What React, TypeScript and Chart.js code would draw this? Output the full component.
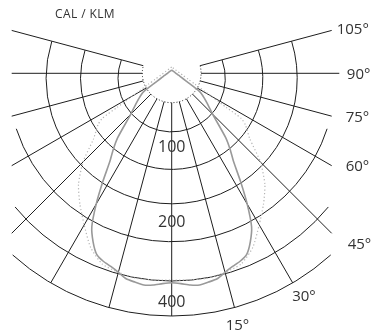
import React, { useEffect, useRef } from "react";
import { Chart, registerables } from "chart.js";

Chart.register(...registerables);

// ---- Photometric data: angle from nadir (deg) and intensity radius (diagram units) ----
const solidAngles = [0, 2.5, 5, 7.5, 10, 12.5, 15, 17.5, 20, 22.5, 25, 27.5, 30, 32.5, 35, 37.5, 40, 45, 50, 55, 57.5, 60, 65, 70, 80, 90, 105, 120, 135, 150, 165, 180];
const solidValues = [209.5, 210.5, 212.5, 213.5, 212, 210.5, 206, 202.5, 200, 196, 186, 173, 151, 128, 108, 96, 84, 58, 46, 37, 31, 20.6, 12.3, 8.8, 5.8, 4.3, 3.3, 2.84, 2.64, 2.64, 2.83, 3.3];

const dottedAngles = [0, 5, 10, 15, 20, 25, 30, 35, 40, 45, 50, 55, 57, 58, 60, 65, 70, 80, 90, 105, 120, 135, 150, 165, 180];
const dottedValues = [206.7, 207.5, 208, 206, 203, 192, 175, 160, 145, 125.5, 102, 90, 83, 64.5, 44.7, 25.4, 17.8, 11.3, 8.4, 6.45, 5.5, 5.1, 5.1, 5.5, 6.3];

// ---- Grid structure ----
const ringRadii = [53.6, 91.1, 125.5, 163.4, 202.7, 237.7];
const ringSpans = [110, 108, 107.2, 72, 50.6, 42];
const innerRingRadius = 29.4;
const spokeAngles = [0, 15, 30, 45, 60, 75, 90, 105];

// ---- Texts ----
const degreeAngles = [15, 30, 45, 60, 75, 90, 105];
const degreeLabels = ["15°", "30°", "45°", "60°", "75°", "90°", "105°"];
const scaleLabels = ["100", "200", "400"];
const unitLabel = "CAL / KLM";

// ---- Layout (pixels) ----
const W = 373;
const H = 333;
const CX = 171.7;
const CY = 73.3;
const RING_OFFSET = 5;
const BOX_HALF = 160;
const RIGHT_HORIZONTAL_REACH = 167.6;
const SCALE_LABEL_RADII = [72.7, 147.7, 227.7];
const DEGREE_LABEL_LAYOUT: Record<number, { dx: number; dy: number; align: CanvasTextAlign }> = {
  105: { dx: 5, dy: -1.5, align: "left" },
  90: { dx: 7.5, dy: 0, align: "left" },
  75: { dx: 14, dy: 0, align: "left" },
  60: { dx: 14, dy: -0.5, align: "left" },
  45: { dx: 16, dy: 10, align: "left" },
  30: { dx: -0.5, dy: 13, align: "left" },
  15: { dx: 3, dy: 17, align: "center" },
};
const FONT = "'Open Sans', 'DejaVu Sans', sans-serif";
const TEXT_COLOR = "#333";
const GRID_COLOR = "#1e1e1e";

const rad = (d: number) => (d * Math.PI) / 180;

function polarPoint(r: number, deg: number) {
  return { x: r * Math.sin(rad(deg)), y: -r * Math.cos(rad(deg)) };
}

function toClosedCurve(angles: number[], values: number[]) {
  const pts: { x: number; y: number }[] = [];
  for (let i = angles.length - 1; i >= 0; i--) pts.push(polarPoint(values[i], -angles[i]));
  for (let i = 1; i < angles.length; i++) pts.push(polarPoint(values[i], angles[i]));
  return pts;
}

function spokeEnd(deg: number, side: number) {
  const phi = rad(deg * side);
  const outerR = ringRadii[ringRadii.length - 1];
  const dc = RING_OFFSET * Math.cos(phi);
  const tArc = dc + Math.sqrt(dc * dc - RING_OFFSET * RING_OFFSET + outerR * outerR);
  const reach = side > 0 && deg === 90 ? RIGHT_HORIZONTAL_REACH : BOX_HALF;
  const s = Math.abs(Math.sin(phi));
  const tBox = s > 1e-6 ? reach / s : Infinity;
  return Math.min(tArc, tBox);
}

const gridPlugin = {
  id: "polarGrid",
  beforeDatasetsDraw(chart: any) {
    const ctx: CanvasRenderingContext2D = chart.ctx;
    const xs = chart.scales.x;
    const ys = chart.scales.y;
    const px = (x: number) => xs.getPixelForValue(x);
    const py = (y: number) => ys.getPixelForValue(y);
    const unit = px(1) - px(0);
    ctx.save();
    ctx.strokeStyle = GRID_COLOR;
    ctx.lineWidth = 1;

    // rings
    ringRadii.forEach((R, i) => {
      const s = rad(ringSpans[i]);
      ctx.beginPath();
      ctx.arc(px(0), py(-RING_OFFSET), R * unit, Math.PI / 2 - s, Math.PI / 2 + s, false);
      ctx.stroke();
    });

    // spokes
    spokeAngles.forEach((a) => {
      const sides = a === 0 ? [1] : [-1, 1];
      sides.forEach((side) => {
        const t = spokeEnd(a, side);
        const p0 = polarPoint(innerRingRadius, a * side);
        const p1 = polarPoint(t, a * side);
        ctx.beginPath();
        ctx.moveTo(px(p0.x), py(p0.y));
        ctx.lineTo(px(p1.x), py(p1.y));
        ctx.stroke();
      });
    });

    // inner dotted ring
    ctx.setLineDash([1, 2]);
    ctx.beginPath();
    const s0 = rad(105);
    ctx.arc(px(0), py(0), innerRingRadius * unit, Math.PI / 2 - s0, Math.PI / 2 + s0, false);
    ctx.stroke();
    ctx.restore();
  },
  afterDatasetsDraw(chart: any) {
    const ctx: CanvasRenderingContext2D = chart.ctx;
    const xs = chart.scales.x;
    const ys = chart.scales.y;
    const px = (x: number) => xs.getPixelForValue(x);
    const py = (y: number) => ys.getPixelForValue(y);
    ctx.save();
    ctx.fillStyle = TEXT_COLOR;
    ctx.textBaseline = "alphabetic";

    // scale labels along the nadir
    ctx.font = `16px ${FONT}`;
    ctx.textAlign = "center";
    scaleLabels.forEach((t, i) => {
      const p = polarPoint(SCALE_LABEL_RADII[i], 0);
      ctx.fillText(t, px(p.x), py(p.y) + 0.357 * 16);
    });

    // degree labels
    ctx.font = `15px ${FONT}`;
    degreeAngles.forEach((a, i) => {
      const t = spokeEnd(a, 1);
      const p = polarPoint(t, a);
      const lay = DEGREE_LABEL_LAYOUT[a];
      ctx.textAlign = lay.align;
      ctx.fillText(degreeLabels[i], px(p.x) + lay.dx, py(p.y) + lay.dy + 0.357 * 15);
    });

    // unit label
    ctx.font = `12px ${FONT}`;
    ctx.textAlign = "left";
    (ctx as any).letterSpacing = "0.4px";
    ctx.fillText(unitLabel, 55, 14 + 0.357 * 12);
    ctx.restore();
  },
};

export default function App() {
  const ref = useRef<HTMLCanvasElement>(null);
  useEffect(() => {
    const canvas = ref.current;
    if (!canvas) return;
    const chart = new Chart(canvas, {
      type: "scatter",
      data: {
        datasets: [
          {
            label: "C90-C270",
            data: toClosedCurve(dottedAngles, dottedValues),
            showLine: true,
            borderColor: "#b4b4b4",
            borderWidth: 1.2,
            borderDash: [1.2, 2.3],
            pointRadius: 0,
            tension: 0.2,
          },
          {
            label: "C0-C180",
            data: toClosedCurve(solidAngles, solidValues),
            showLine: true,
            borderColor: "#999999",
            borderWidth: 1.6,
            pointRadius: 0,
            tension: 0.2,
          },
        ],
      },
      options: {
        animation: false,
        responsive: false,
        maintainAspectRatio: false,
        devicePixelRatio: 1,
        events: [],
        layout: { padding: 0 },
        plugins: { legend: { display: false }, tooltip: { enabled: false }, title: { display: false } },
        scales: {
          x: { type: "linear", min: -CX, max: W - CX, display: false },
          y: { type: "linear", min: -(H - CY), max: CY, display: false },
        },
      },
      plugins: [gridPlugin],
    } as any);
    return () => chart.destroy();
  }, []);
  return (
    <div style={{ position: "absolute", left: 0, top: 0, width: W, height: H, background: "#fff" }}>
      <canvas ref={ref} width={W} height={H} style={{ width: W, height: H, display: "block" }} />
    </div>
  );
}
